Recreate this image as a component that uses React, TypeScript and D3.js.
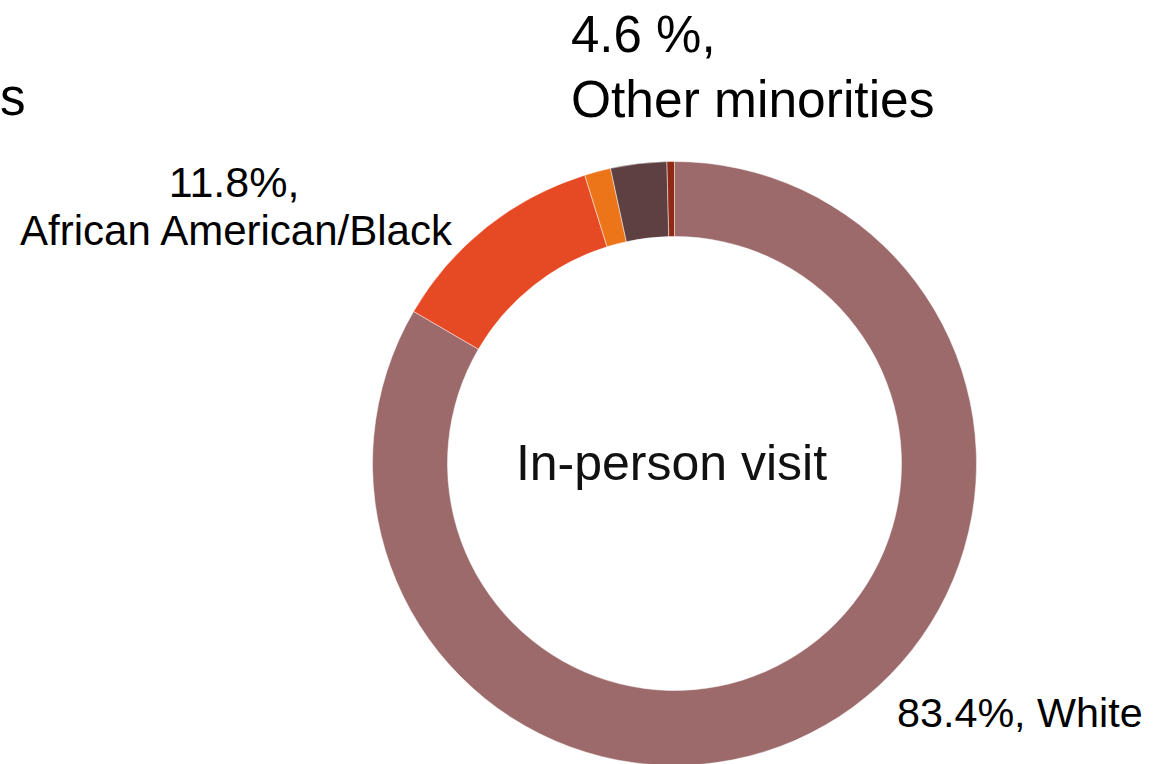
import React from "react";
import * as d3 from "d3";

const categories = ["White", "African American/Black", "Asian", "Multiracial", "Native American"];
const values = [83.4, 11.8, 1.4, 3.0, 0.4];
const colors = ["#9C6A6A", "#E64A25", "#EC7419", "#5E4042", "#912A15"];
const otherLabelValue = 4.6;
const otherLabel = "Other minorities";
const centerTitle = "In-person visit";

const W = 1169;
const H = 764;

export default function App() {
  const cx = 674.5;
  const cy = 463.5;
  const outerR = 302;
  const innerR = 227;
  const pie = d3.pie<number>().sort(null).value((d) => d);
  const arcs = pie(values);
  const arc = d3.arc<d3.PieArcDatum<number>>().innerRadius(innerR).outerRadius(outerR);
  const font = "'Liberation Sans', Arial, Helvetica, sans-serif";

  return (
    <div style={{ position: "absolute", left: 0, top: 0 }}>
      <svg width={W} height={H} style={{ display: "block", background: "#fff" }}>
        <g transform={`translate(${cx},${cy})`}>
          {arcs.map((a, i) => (
            <path
              key={categories[i]}
              d={arc(a) || ""}
              fill={colors[i]}
              stroke="#ffffff"
              strokeWidth={0.8}
              strokeOpacity={0.6}
            />
          ))}
          <text x={-3} y={16} textAnchor="middle" fontFamily={font} fontSize={50} fontWeight={300} fill="#111">
            {centerTitle}
          </text>
        </g>
        <g fontFamily={font} fill="#000">
          <text x={0} y={115} fontSize={51}>s</text>
          <text x={571} y={52} fontSize={51}>{`${otherLabelValue.toFixed(1)} %,`}</text>
          <text x={571} y={117} fontSize={51.5}>{otherLabel}</text>
          <text x={234} y={197} textAnchor="middle" fontSize={43}>{`${values[1]}%,`}</text>
          <text x={236} y={245} textAnchor="middle" fontSize={42}>{`${categories[1]}`}</text>
          <text x={897} y={727} fontSize={41.3}>{`${values[0]}%, ${categories[0]}`}</text>
        </g>
      </svg>
    </div>
  );
}
